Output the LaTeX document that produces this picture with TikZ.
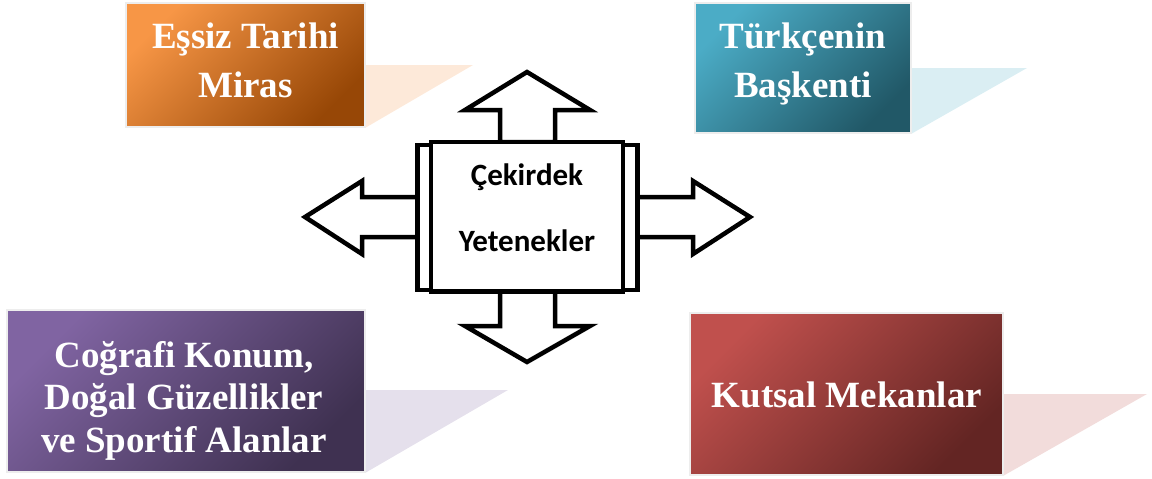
\documentclass[tikz,border=0pt]{standalone}
\usepackage{fontspec}
\setmainfont{Liberation Serif}
\newfontfamily\corefont{Carlito}
\definecolor{orangeA}{HTML}{F79646}
\definecolor{orangeB}{HTML}{974706}
\definecolor{orangeS}{HTML}{FDE9D9}
\definecolor{tealA}{HTML}{4BACC6}
\definecolor{tealB}{HTML}{215867}
\definecolor{tealS}{HTML}{DAEEF3}
\definecolor{purpleA}{HTML}{8064A2}
\definecolor{purpleB}{HTML}{3F3151}
\definecolor{purpleS}{HTML}{E5E0EC}
\definecolor{redA}{HTML}{C0504D}
\definecolor{redB}{HTML}{632523}
\definecolor{redS}{HTML}{F2DCDB}
\begin{document}
\begin{tikzpicture}[x=1pt,y=-1pt,
  tile/.style={rectangle, draw=black!7, line width=2.5pt, inner sep=0pt},
  tiletext/.style={text=white, font=\bfseries\fontsize{37}{49}\selectfont, align=center, inner sep=0pt},
  blockarrow/.style={draw=black, fill=white, line width=4.5pt, line join=miter},
  corebox/.style={rectangle, draw=black, fill=white, line width=4.5pt, inner sep=0pt},
  coretext/.style={font=\corefont\bfseries\fontsize{31}{37}\selectfont, inner sep=0pt}
]
\useasboundingbox (0,0) rectangle (1152,479);

% pale wedges trailing behind each tile
\fill[orangeS] (365,65) -- (473,65) -- (365,128) -- cycle;
\fill[tealS] (911,68) -- (1027,68) -- (911,134) -- cycle;
\fill[purpleS] (365,390) -- (508,390) -- (365,473) -- cycle;
\fill[redS] (1003,394) -- (1147,394) -- (1003,476) -- cycle;

% coloured tiles
\node[tile, minimum width=239pt, minimum height=124pt,
      top color=orangeA, bottom color=orangeB, shading angle=45] (heritage) at (245.5,65) {};
\node[tile, minimum width=216pt, minimum height=130pt,
      top color=tealA, bottom color=tealB, shading angle=45] (capital) at (803,68) {};
\node[tile, minimum width=358pt, minimum height=162pt,
      top color=purpleA, bottom color=purpleB, shading angle=45] (nature) at (186,391) {};
\node[tile, minimum width=313pt, minimum height=162pt,
      top color=redA, bottom color=redB, shading angle=45] (sacred) at (846.5,394) {};

\node[tiletext] (heritagetext) at (245.5,60) {Eşsiz Tarihi\\Miras};
\node[tiletext] (capitaltext) at (803,64) {Türkçenin\\Başkenti};
\node[tiletext, font=\bfseries\fontsize{37}{42.5}\selectfont] (naturetext) at (184,400.5)
  {Coğrafi Konum,\\Doğal Güzellikler\\ve Sportif Alanlar};
\node[tiletext, anchor=base] (sacredtext) at (847,407) {Kutsal Mekanlar};

% four block arrows leaving the core
\draw[blockarrow] (500,142) -- (500,110) -- (465,110) -- (527,72) -- (590,110) -- (555,110) -- (555,142) -- cycle;
\draw[blockarrow] (500,291.5) -- (500,326) -- (465,326) -- (527,362) -- (590,326) -- (555,326) -- (555,291.5) -- cycle;
\draw[blockarrow] (417.5,197) -- (362,197) -- (362,181) -- (305,217) -- (362,254) -- (362,237) -- (417.5,237) -- cycle;
\draw[blockarrow] (637.5,197) -- (693,197) -- (693,181) -- (750,217) -- (693,254) -- (693,237) -- (637.5,237) -- cycle;

% core: side frame and square
\node[corebox, minimum width=220pt, minimum height=145pt] (frame) at (527.5,217.5) {};
\node[corebox, minimum width=192pt, minimum height=149.5pt] (core) at (527,216.75) {};
\node[coretext, anchor=base] (coretop) at (527,185) {Çekirdek};
\node[coretext, anchor=base] (corebottom) at (527,251) {Yetenekler};
\end{tikzpicture}
\end{document}
